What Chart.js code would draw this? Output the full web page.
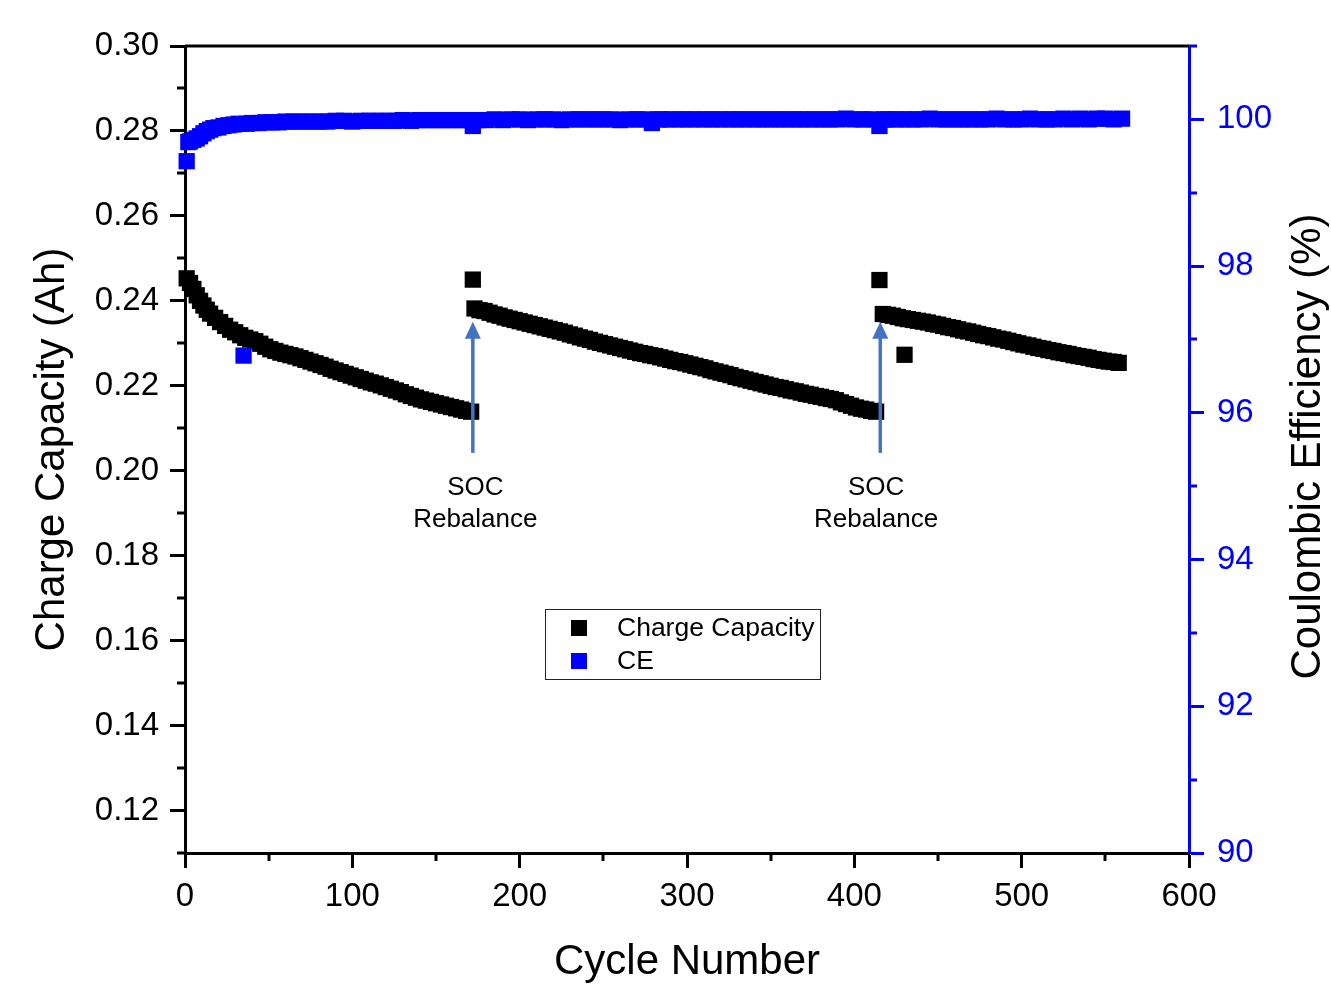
<!DOCTYPE html>
<html>
<head>
<meta charset="utf-8">
<script src="https://cdn.jsdelivr.net/npm/chart.js@4/dist/chart.umd.min.js"></script>
<style>
html,body{margin:0;padding:0;background:#fff;}
#wrap{width:1331px;height:984px;position:relative;}
</style>
</head>
<body>
<div id="wrap"><canvas id="c"></canvas></div>
<script>
// ---------------- DATA ----------------
const seriesNames = ['Charge Capacity', 'CE'];

const capCycles = [
  1,3,5,7,9,11,13,15,18,21,24,27,30,33,36,39,42,45,48,51,54,57,60,63,66,69,72,75,78,81,
  84,87,90,93,96,99,102,105,108,111,114,117,120,123,126,129,132,135,138,141,144,147,150,153,156,159,162,165,168,171,
  172,
  173,176,179,182,185,188,191,194,197,200,203,206,209,212,215,218,221,224,227,230,233,236,239,242,245,248,251,254,257,260,
  263,266,269,272,275,278,281,284,287,290,293,296,299,302,305,308,311,314,317,320,323,326,329,332,335,338,341,344,347,350,
  353,356,359,362,365,368,371,374,377,380,383,386,389,392,395,398,401,404,407,410,413,
  415,
  417,420,423,426,429,430,432,435,438,441,444,447,450,453,456,459,462,465,468,471,474,477,480,483,486,489,492,495,498,501,
  504,507,510,513,516,519,522,525,528,531,534,537,540,543,546,549,552,555,558
];
const capValues = [
  0.2453,0.2442,0.2428,0.2413,0.2400,0.2389,0.2379,0.2370,0.2360,0.2350,0.2341,0.2332,0.2326,0.2319,0.2313,0.2309,0.2305,0.2299,0.2292,0.2286,0.2282,0.2278,0.2275,0.2272,0.2269,0.2265,0.2261,0.2257,0.2253,0.2249,
  0.2245,0.2240,0.2236,0.2232,0.2228,0.2224,0.2220,0.2216,0.2212,0.2208,0.2205,0.2201,0.2197,0.2193,0.2189,0.2185,0.2180,0.2176,0.2172,0.2168,0.2165,0.2162,0.2159,0.2156,0.2153,0.2150,0.2147,0.2144,0.2141,0.2139,
  0.2450,
  0.2382,0.2378,0.2376,0.2372,0.2368,0.2365,0.2361,0.2358,0.2355,0.2352,0.2349,0.2346,0.2343,0.2340,0.2337,0.2334,0.2331,0.2328,0.2325,0.2321,0.2318,0.2314,0.2311,0.2308,0.2304,0.2301,0.2298,0.2295,0.2292,0.2289,
  0.2286,0.2283,0.2280,0.2277,0.2275,0.2272,0.2270,0.2267,0.2264,0.2261,0.2258,0.2256,0.2253,0.2250,0.2247,0.2244,0.2241,0.2237,0.2234,0.2231,0.2228,0.2225,0.2221,0.2218,0.2215,0.2212,0.2209,0.2206,0.2203,0.2200,
  0.2197,0.2195,0.2192,0.2189,0.2187,0.2184,0.2181,0.2179,0.2176,0.2174,0.2171,0.2169,0.2166,0.2161,0.2157,0.2153,0.2149,0.2146,0.2144,0.2141,0.2139,
  0.2449,
  0.2369,0.2367,0.2365,0.2362,0.2359,0.2273,0.2357,0.2355,0.2353,0.2351,0.2349,0.2346,0.2344,0.2341,0.2338,0.2336,0.2333,0.2330,0.2328,0.2325,0.2322,0.2319,0.2317,0.2314,0.2311,0.2309,0.2306,0.2303,0.2300,0.2297,
  0.2295,0.2292,0.2289,0.2287,0.2284,0.2282,0.2279,0.2277,0.2275,0.2272,0.2270,0.2268,0.2266,0.2263,0.2261,0.2259,0.2257,0.2256,0.2254
];

const ceCycles = [
  1,2,3,5,7,9,11,13,15,17,20,23,26,29,32,35,37,40,44,48,52,56,60,65,70,75,80,85,90,95,
  100,105,110,115,120,125,130,135,140,145,150,155,160,165,170,172,175,180,185,190,195,200,205,210,215,220,225,230,235,240,
  245,250,255,260,265,270,275,279,283,285,290,295,300,305,310,315,320,325,330,335,340,345,350,355,360,365,370,375,380,385,
  390,395,400,405,410,415,418,420,425,430,435,440,445,450,455,460,465,470,475,480,485,490,495,500,505,510,515,520,525,530,
  535,540,545,550,555,560
];
const ceValues = [
  99.43,99.69,99.70,99.72,99.74,99.77,99.81,99.84,99.86,99.88,99.89,99.91,99.92,99.93,99.94,96.78,99.94,99.95,99.95,99.96,99.96,99.96,99.97,99.97,99.97,99.97,99.97,99.97,99.98,99.98,
  99.97,99.98,99.98,99.98,99.98,99.98,99.99,99.98,99.99,99.99,99.99,99.99,99.99,99.99,99.99,99.91,99.99,99.99,100.00,99.99,100.00,100.00,99.99,100.00,100.00,100.00,99.99,100.00,100.00,100.00,
  100.00,100.00,100.00,99.99,100.00,100.00,100.00,99.95,100.00,100.00,100.00,100.00,100.00,100.00,100.00,100.00,100.00,100.00,100.00,100.00,100.00,100.00,100.00,100.00,100.00,100.00,100.00,100.00,100.00,100.00,
  100.00,100.01,100.00,100.00,100.00,99.91,100.00,100.00,100.00,100.00,100.00,100.00,100.01,100.00,100.00,100.00,100.00,100.00,100.00,100.00,100.01,100.00,100.00,100.00,100.01,100.00,100.00,100.00,100.01,100.00,
  100.01,100.00,100.01,100.01,100.00,100.01
];

// tick values
const xMinorTicks = [50,150,250,350,450,550];
const yMinorTicks = [0.11,0.13,0.15,0.17,0.19,0.21,0.23,0.25,0.27,0.29];
const y1MinorTicks = [91,93,95,97,99,101];

// annotations (cycle where the SOC rebalance happened)
const rebalanceCycles = [172, 415.5];
const rebalanceLabelCycles = [173.5, 413];
const rebalanceText = ['SOC', 'Rebalance'];

// ---------------- CHART ----------------
const FONT = '"Liberation Sans", Arial, Helvetica, sans-serif';
const BLUE = '#0000FF';
const ARROW = '#4472C4';

const deco = {
  id: 'deco',
  afterDatasetsDraw(chart) {
    const ctx = chart.ctx, x = chart.scales.x, y = chart.scales.y;
    ctx.save();
    rebalanceCycles.forEach((c, i) => {
      const px = x.getPixelForValue(c);
      const yTail = y.getPixelForValue(0.2042);
      const yTip = y.getPixelForValue(0.2351);
      ctx.strokeStyle = ARROW;
      ctx.fillStyle = ARROW;
      ctx.lineWidth = 3.5;
      ctx.beginPath();
      ctx.moveTo(px, yTail);
      ctx.lineTo(px, yTip + 12);
      ctx.stroke();
      ctx.beginPath();
      ctx.moveTo(px, yTip);
      ctx.lineTo(px - 8, yTip + 17);
      ctx.lineTo(px + 8, yTip + 17);
      ctx.closePath();
      ctx.fill();
      const lx = x.getPixelForValue(rebalanceLabelCycles[i]);
      ctx.fillStyle = '#000';
      ctx.font = '26px ' + FONT;
      ctx.textAlign = 'center';
      ctx.textBaseline = 'middle';
      ctx.fillText(rebalanceText[0], lx, y.getPixelForValue(0.1959));
      ctx.fillText(rebalanceText[1], lx, y.getPixelForValue(0.1884));
    });
    ctx.restore();
  },
  afterDraw(chart) {
    const ctx = chart.ctx, ca = chart.chartArea;
    const sx = chart.scales.x, sy = chart.scales.y, sy1 = chart.scales.y1;
    ctx.save();
    // top frame line
    ctx.strokeStyle = '#000';
    ctx.lineWidth = 3;
    ctx.beginPath();
    ctx.moveTo(ca.left, ca.top);
    ctx.lineTo(ca.right, ca.top);
    ctx.stroke();
    // minor ticks
    ctx.lineWidth = 3;
    ctx.strokeStyle = '#000';
    xMinorTicks.forEach(v => {
      const p = Math.round(sx.getPixelForValue(v));
      ctx.beginPath(); ctx.moveTo(p, ca.bottom); ctx.lineTo(p, ca.bottom + 8); ctx.stroke();
    });
    yMinorTicks.forEach(v => {
      const p = Math.round(sy.getPixelForValue(v));
      ctx.beginPath(); ctx.moveTo(ca.left, p); ctx.lineTo(ca.left - 8, p); ctx.stroke();
    });
    ctx.strokeStyle = BLUE;
    y1MinorTicks.forEach(v => {
      const p = Math.round(sy1.getPixelForValue(v));
      ctx.beginPath(); ctx.moveTo(ca.right, p); ctx.lineTo(ca.right + 8, p); ctx.stroke();
    });
    // axis titles
    ctx.fillStyle = '#000';
    ctx.font = '42px ' + FONT;
    ctx.textAlign = 'center';
    ctx.textBaseline = 'alphabetic';
    const midY = (ca.top + ca.bottom) / 2;
    ctx.fillText('Cycle Number', (ca.left + ca.right) / 2, 974);
    ctx.save();
    ctx.translate(64, midY);
    ctx.rotate(-Math.PI / 2);
    ctx.fillText('Charge Capacity (Ah)', 0, 0);
    ctx.restore();
    ctx.save();
    ctx.translate(1320, midY - 3);
    ctx.rotate(-Math.PI / 2);
    ctx.fillText('Coulombic Efficiency (%)', 0, 0);
    ctx.restore();
    // legend
    const L = {x: 545.5, y: 609.5, w: 275, h: 70};
    ctx.strokeStyle = '#222';
    ctx.lineWidth = 1;
    ctx.fillStyle = '#fff';
    ctx.fillRect(L.x, L.y, L.w, L.h);
    ctx.strokeRect(L.x, L.y, L.w, L.h);
    const colors = ['#000', BLUE];
    ctx.font = '26.5px ' + FONT;
    ctx.textAlign = 'left';
    ctx.textBaseline = 'middle';
    seriesNames.forEach((name, i) => {
      const cy = 628 + i * 33;
      ctx.fillStyle = colors[i];
      ctx.fillRect(571, cy - 8, 16, 16);
      ctx.fillStyle = '#000';
      ctx.fillText(name, 617, cy + 1);
    });
    ctx.restore();
  }
};

const tickFont = {family: FONT, size: 33};

new Chart(document.getElementById('c'), {
  type: 'scatter',
  data: {
    datasets: [
      {
        label: seriesNames[1],
        data: ceCycles.map((c, i) => ({x: c, y: ceValues[i]})),
        yAxisID: 'y1',
        pointStyle: 'rect',
        pointRadius: 11.5,
        pointBorderWidth: 0,
        backgroundColor: BLUE,
        borderColor: BLUE,
        showLine: false,
        clip: false,
        order: 0
      },
      {
        label: seriesNames[0],
        data: capCycles.map((c, i) => ({x: c, y: capValues[i]})),
        yAxisID: 'y',
        pointStyle: 'rect',
        pointRadius: 11.5,
        pointBorderWidth: 0,
        backgroundColor: '#000',
        borderColor: '#000',
        showLine: false,
        clip: false,
        order: 1
      }
    ]
  },
  options: {
    responsive: true,
    maintainAspectRatio: false,
    animation: false,
    events: [],
    layout: {padding: {top: 46, left: 0, right: 0, bottom: 0}},
    plugins: {legend: {display: false}, tooltip: {enabled: false}},
    scales: {
      x: {
        type: 'linear', position: 'bottom', min: 0, max: 600, z: 1,
        ticks: {stepSize: 100, font: tickFont, color: '#000', padding: 9, maxRotation: 0, autoSkip: false, includeBounds: false},
        grid: {drawOnChartArea: false, drawTicks: true, tickLength: 15, tickWidth: 3, tickColor: '#000'},
        border: {display: true, width: 3, color: '#000'},
        afterFit(s) { s.height = 131; }
      },
      y: {
        type: 'linear', position: 'left', min: 0.11, max: 0.30, z: 1,
        ticks: {stepSize: 0.02, font: tickFont, color: '#000', padding: 11, autoSkip: false, includeBounds: false,
                callback: v => Number(v).toFixed(2)},
        grid: {drawOnChartArea: false, drawTicks: true, tickLength: 15, tickWidth: 3, tickColor: '#000'},
        border: {display: true, width: 3, color: '#000'},
        afterFit(s) { s.width = 185; }
      },
      y1: {
        type: 'linear', position: 'right', min: 90, max: 101, z: 1,
        ticks: {stepSize: 2, font: tickFont, color: BLUE, padding: 13, autoSkip: false, includeBounds: false},
        grid: {drawOnChartArea: false, drawTicks: true, tickLength: 15, tickWidth: 3, tickColor: BLUE},
        border: {display: true, width: 3, color: BLUE},
        afterFit(s) { s.width = 142; }
      }
    }
  },
  plugins: [deco]
});
</script>
</body>
</html>
